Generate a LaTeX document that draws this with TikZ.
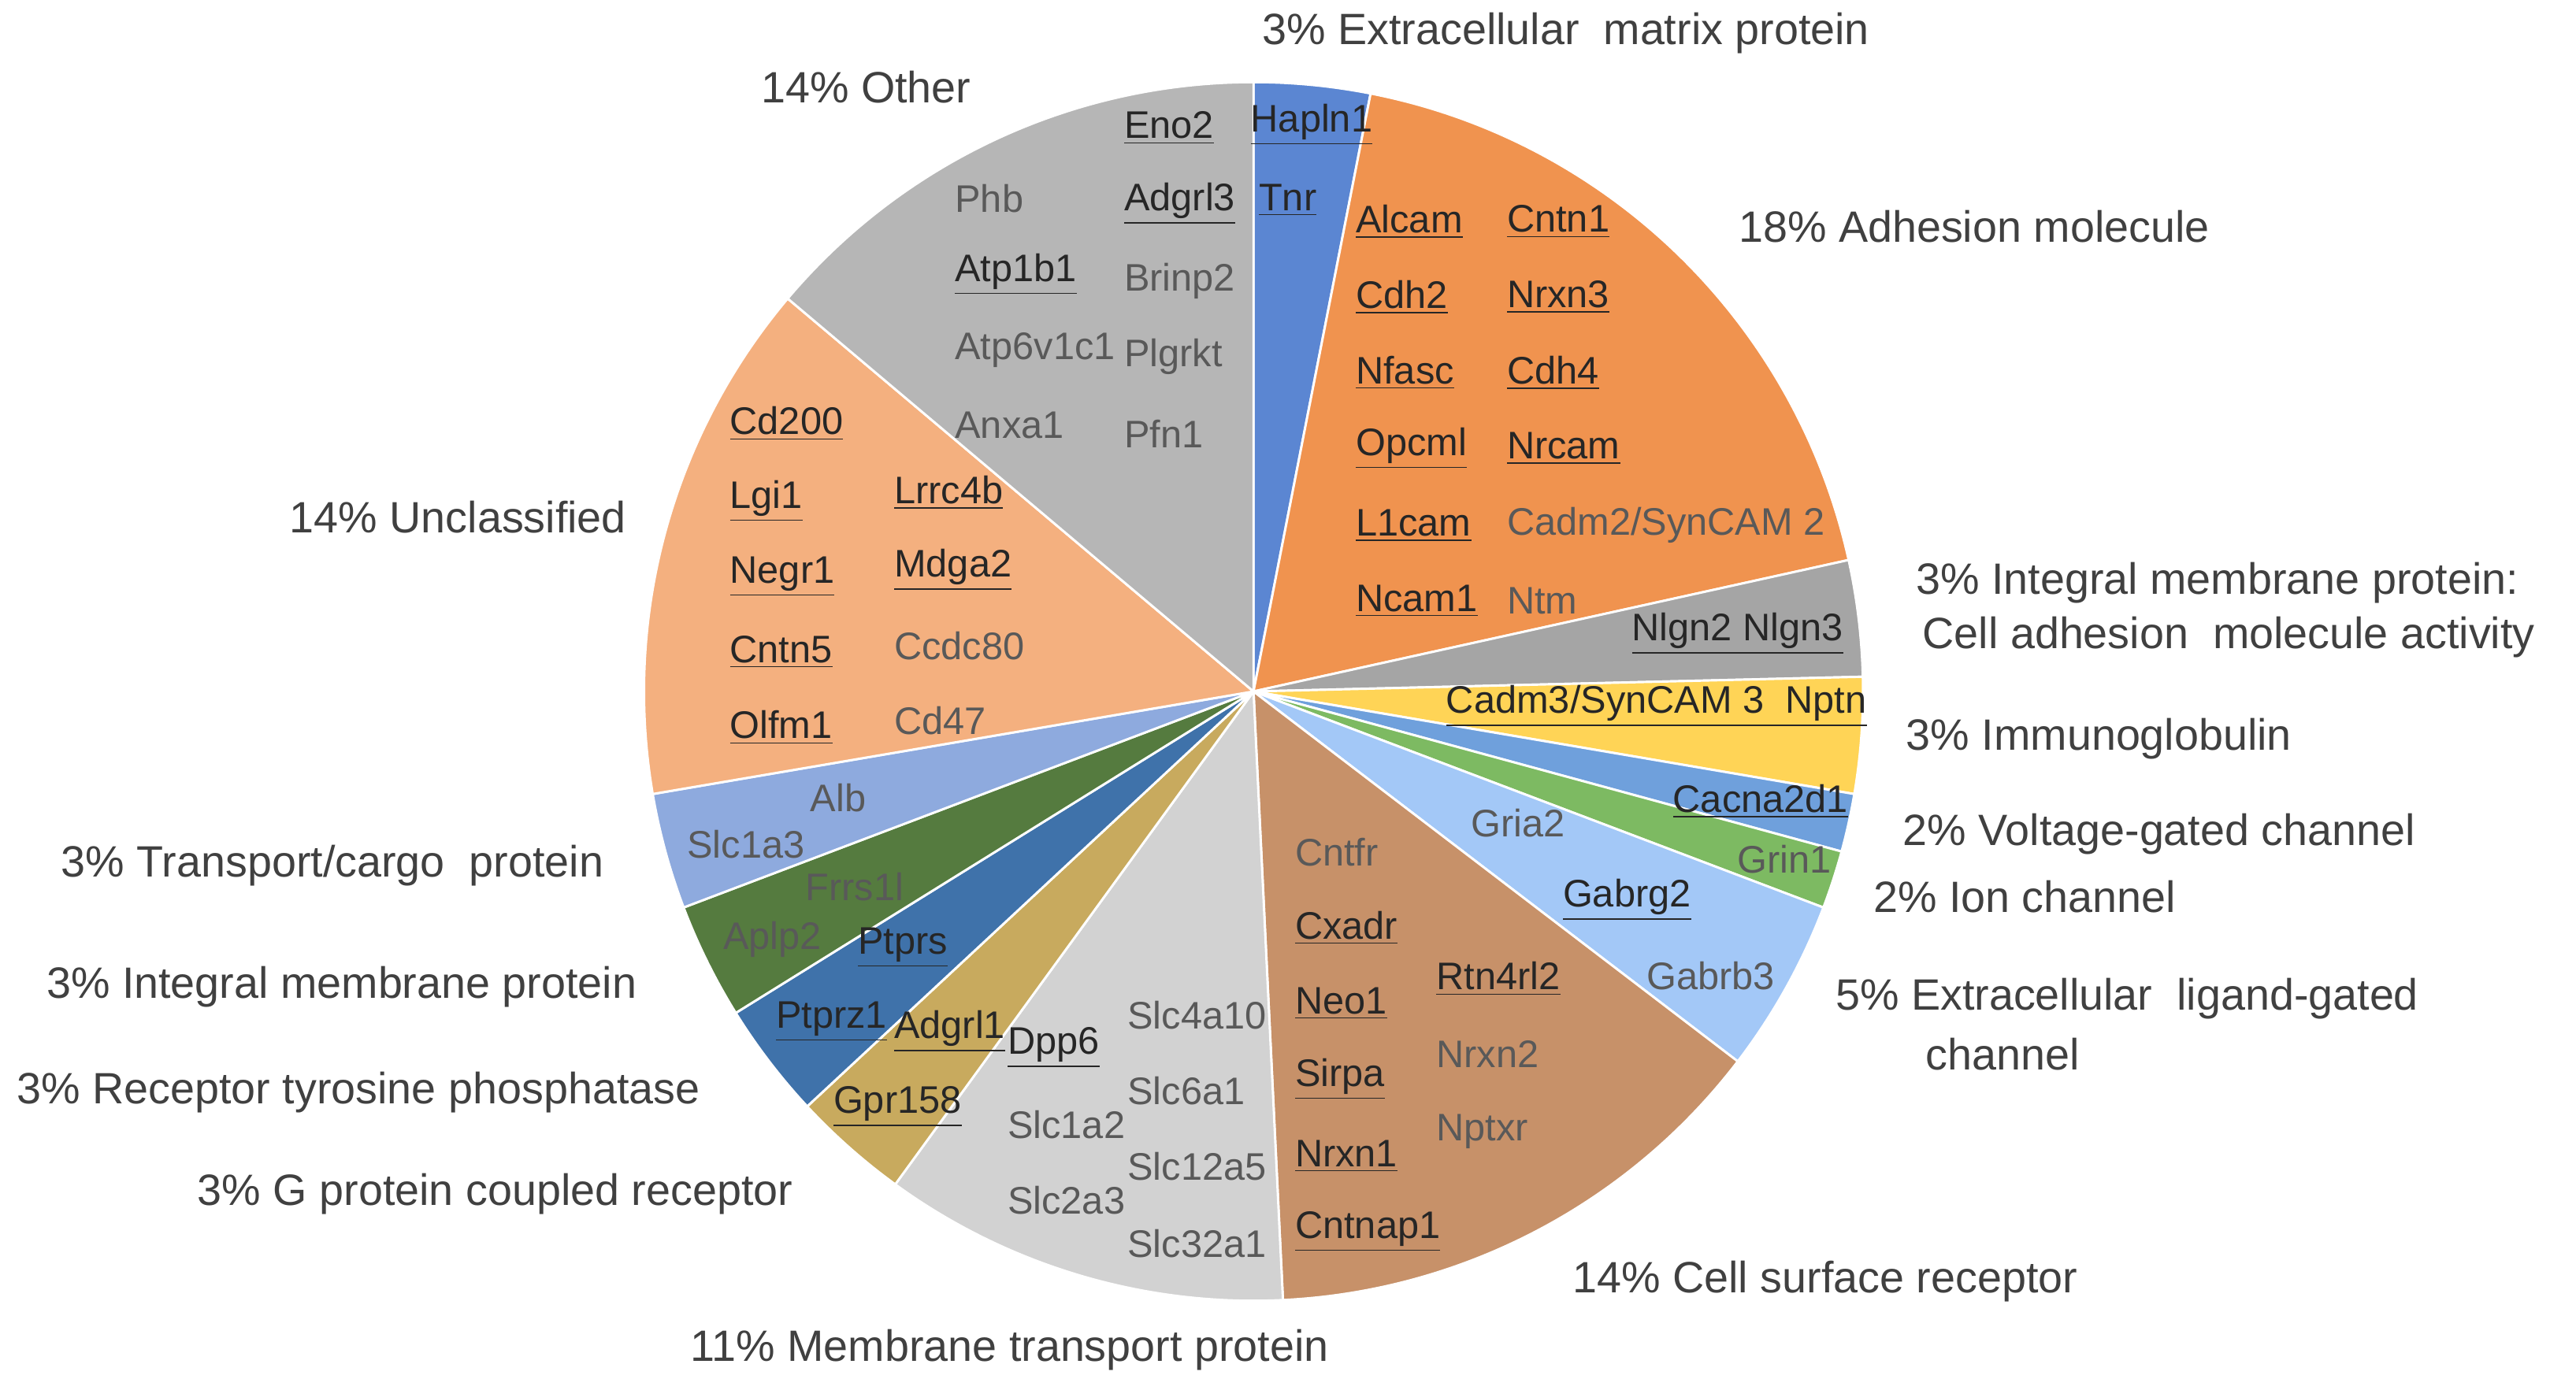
\documentclass[tikz,border=0pt]{standalone}
\usepackage{fontspec}
\setmainfont{Liberation Sans}
\usetikzlibrary{calc}
\begin{document}
\begin{tikzpicture}[x=0.02cm,y=-0.02cm,
 outl/.style={anchor=west,text=black!75,font=\fontsize{15.2}{17}\selectfont,inner sep=0},
 inl/.style={anchor=west,text=black!65,font=\fontsize{13.3}{16}\selectfont,inner sep=0},
 inu/.style={anchor=west,text=black!85,font=\fontsize{13.3}{16}\selectfont,inner sep=0}]
\useasboundingbox (0,0) rectangle (1568,846);
\fill[white] (0,0) rectangle (1568,846);
\coordinate (C) at (763,421);
\def\d{5.53846}
\foreach \a/\b/\col in {0/2/5B86D2,2/14/F0934F,14/16/A5A5A5,16/18/FFD456,18/19/6FA0DC,19/20/7DBA62,20/23/A3C8F7,23/32/C79169,32/39/D2D2D2,39/41/C8AA5E,41/43/3F72AA,43/45/557B3F,45/47/8EAADE,47/56/F4B07F,56/65/B6B6B6}{
 \definecolor{sc}{HTML}{\col}
 \fill[sc,draw=white,line width=0.8pt] (C) -- ($(C)+({-90+\a*\d}:371)$) arc[start angle={-90+\a*\d},end angle={-90+\b*\d},radius=371] -- cycle;
}
% outside labels
\node[outl] (o1) at (768,20) {3\% Extracellular\ \ matrix protein};
\node[outl] (o2) at (1058,138) {18\% Adhesion molecule};
\node[outl] (o3) at (1166,355) {3\% Integral membrane protein:};
\node[outl] (o3b) at (1170,388) {Cell adhesion\ \ molecule activity};
\node[outl] (o4) at (1160,450) {3\% Immunoglobulin};
\node[outl] (o5) at (1158,508) {2\% Voltage-gated channel};
\node[outl] (o6) at (1140,546) {2\% Ion channel};
\node[outl] (o7) at (1117,608) {5\% Extracellular\ \ ligand-gated};
\node[outl] (o7b) at (1172,642) {channel};
\node[outl] (o8) at (957,780) {14\% Cell surface receptor};
\node[outl] (o9) at (420,822) {11\% Membrane transport protein};
\node[outl] (o10) at (120,727) {3\% G protein coupled receptor};
\node[outl] (o11) at (10,665) {3\% Receptor tyrosine phosphatase};
\node[outl] (o12) at (28,601) {3\% Integral membrane protein};
\node[outl] (o13) at (37,527) {3\% Transport/cargo\ \ protein};
\node[outl] (o14) at (176,315) {14\% Unclassified};
\node[outl] (o15) at (463,53) {14\% Other};
% inside labels
\foreach \n/\x/\y/\t in {a1/761/76/Hapln1,a2/766/122/Tnr,
 b1/825/135/Alcam,b2/917/135/Cntn1,b3/825/181/Cdh2,b4/917/181/Nrxn3,b5/825/227/Nfasc,b6/917/227/Cdh4,b7/825/273/Opcml,b8/917/273/Nrcam,b9/825/320/L1cam,b10/825/366/Ncam1,
 c1/993/386/{Nlgn2 Nlgn3},d1/880/430/{Cadm3/SynCAM 3\ \ Nptn},e1/1018/488/Cacna2d1,g1/951/548/Gabrg2,
 h1/788/565/Cxadr,h2/788/611/Neo1,h3/788/657/Sirpa,h4/788/704/Nrxn1,h5/788/750/Cntnap1,h6/874/596/Rtn4rl2,
 i1/613/638/Dpp6,j1/544/628/Adgrl1,j2/507/674/Gpr158,k1/472/622/Ptprz1,k2/522/577/Ptprs,
 u1/444/258/Cd200,u2/444/305/Lgi1,u3/544/300/Lrrc4b,u4/444/351/Negr1,u5/544/347/Mdga2,u6/444/397/Cntn5,u7/444/443/Olfm1,
 t1/684/78/Eno2,t2/684/124/Adgrl3,t3/581/167/Atp1b1}
 \node[inu] (\n) at (\x,\y) {\underline{\t}};
\foreach \n/\x/\y/\t in {b11/917/320/{Cadm2/SynCAM 2},b12/917/366/Ntm,f1/1057/523/Grin1,g2/895/501/Gria2,g3/1002/594/Gabrb3,
 h7/788/519/Cntfr,h8/874/642/Nrxn2,h9/874/689/Nptxr,
 i2/686/618/Slc4a10,i3/686/664/Slc6a1,i4/613/685/Slc1a2,i5/686/710/Slc12a5,i6/613/731/Slc2a3,i7/686/757/Slc32a1,
 l1/440/572/Aplp2,l2/490/540/Frrs1l,m1/493/486/Alb,m2/418/514/Slc1a3,u8/544/393/Ccdc80,u9/544/439/Cd47,
 t4/581/121/Phb,t5/684/171/Brinp2,t6/581/213/Atp6v1c1,t7/684/217/Plgrkt,t8/581/259/Anxa1,t9/684/264/Pfn1}
 \node[inl] (\n) at (\x,\y) {\t};
\end{tikzpicture}
\end{document}
